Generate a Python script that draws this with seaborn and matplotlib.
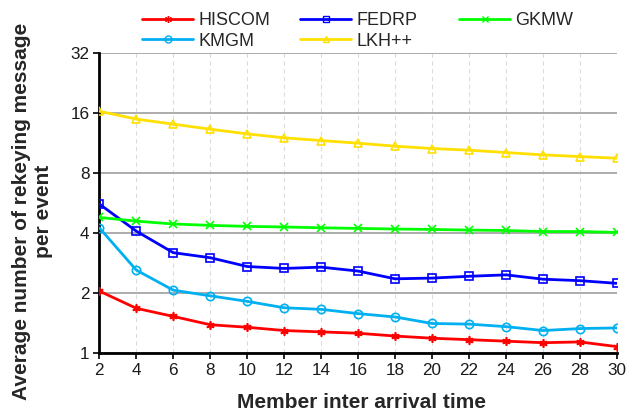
import matplotlib
matplotlib.use("Agg")
import matplotlib.pyplot as plt
import seaborn as sns
import pandas as pd
from matplotlib.lines import Line2D
from matplotlib.ticker import FixedLocator, FixedFormatter, NullLocator

x_vals = [2, 4, 6, 8, 10, 12, 14, 16, 18, 20, 22, 24, 26, 28, 30]
hiscom = [2.05, 1.68, 1.53, 1.39, 1.35, 1.30, 1.28, 1.26, 1.22, 1.19, 1.17, 1.15, 1.13, 1.14, 1.08]
fedrp = [5.59, 4.09, 3.19, 3.01, 2.72, 2.66, 2.70, 2.58, 2.36, 2.38, 2.43, 2.47, 2.35, 2.31, 2.24]
gkmw = [4.79, 4.59, 4.44, 4.37, 4.32, 4.29, 4.25, 4.22, 4.19, 4.17, 4.14, 4.12, 4.07, 4.07, 4.03]
kmgm = [4.25, 2.61, 2.07, 1.94, 1.82, 1.69, 1.66, 1.58, 1.52, 1.41, 1.40, 1.36, 1.30, 1.33, 1.34]
lkh = [16.3, 14.88, 14.04, 13.25, 12.55, 11.99, 11.62, 11.27, 10.89, 10.6, 10.4, 10.12, 9.85, 9.66, 9.48]

series_names = ["HISCOM", "FEDRP", "GKMW", "KMGM", "LKH++"]
series_values = [hiscom, fedrp, gkmw, kmgm, lkh]
y_ticks = [1, 2, 4, 8, 16, 32]
y_tick_labels = ["1", "2", "4", "8", "16", "32"]

colors = {"HISCOM": "#ff0000", "FEDRP": "#0000ff", "GKMW": "#00ff00",
          "KMGM": "#00b0f0", "LKH++": "#ffe000"}
markers = {"HISCOM": (6, 2, 0), "FEDRP": "s", "GKMW": "x", "KMGM": "o", "LKH++": "^"}

sns.set_style("white")
plt.rcParams["font.family"] = ["Liberation Sans", "DejaVu Sans"]

fig = plt.figure(figsize=(6.27, 4.11), dpi=100)
ax = fig.add_axes([0.1584, 0.1404, 0.984 - 0.1584, 0.8718 - 0.1404])

for name, vals in zip(series_names, series_values):
    df = pd.DataFrame({"x": x_vals, "y": vals})
    sns.lineplot(data=df, x="x", y="y", ax=ax, color=colors[name], lw=2.0,
                 marker=markers[name], markersize=6, markerfacecolor="none",
                 markeredgecolor=colors[name], markeredgewidth=1.2, zorder=3)

ax.set_yscale("log", base=2)
ax.set_ylim(1, 32)
ax.set_xlim(2, 30)
ax.yaxis.set_major_locator(FixedLocator(y_ticks))
ax.yaxis.set_major_formatter(FixedFormatter(y_tick_labels))
ax.yaxis.set_minor_locator(NullLocator())
ax.set_xticks(x_vals)
ax.set_xticklabels([str(v) for v in x_vals])

ax.grid(axis="y", color="#a6a6a6", lw=1.3, ls="-", zorder=0)
ax.grid(axis="x", color="#dcdcdc", lw=0.8, ls=(0, (4, 3)), zorder=0)
ax.set_axisbelow(True)

for s in ["top", "right"]:
    ax.spines[s].set_visible(False)
for s in ["left", "bottom"]:
    ax.spines[s].set_color("black")
    ax.spines[s].set_linewidth(2)
ax.tick_params(axis="both", direction="out", length=4, width=1.2, color="black",
               labelsize=12.3, labelcolor="#1a1a1a", bottom=True, left=True, pad=3)

ax.set_xlabel("Member inter arrival time", fontsize=15, fontweight="bold")
ax.set_ylabel("Average number of rekeying message\nper event", fontsize=15,
              fontweight="bold", multialignment="center")
ax.xaxis.set_label_coords(0.506, -0.133)
ax.yaxis.set_label_coords(-0.089, 0.473)

# legend: three fixed-width columns, row-major order
columns = [["HISCOM", "KMGM"], ["FEDRP", "LKH++"], ["GKMW"]]
col_left_px = [142, 300, 459]
for names, left in zip(columns, col_left_px):
    hs = [Line2D([], [], color=colors[n], lw=2.0, marker=markers[n], markersize=5,
                 markerfacecolor="none", markeredgecolor=colors[n], markeredgewidth=1.0)
          for n in names]
    leg = fig.legend(hs, names, loc="upper left",
                     bbox_to_anchor=(left / 627, 1 - 12 / 411), ncol=1, frameon=False,
                     fontsize=13, handlelength=2.83, handletextpad=0.28,
                     labelspacing=0.2, borderpad=0, borderaxespad=0)

fig.savefig("out.png", dpi=100)
